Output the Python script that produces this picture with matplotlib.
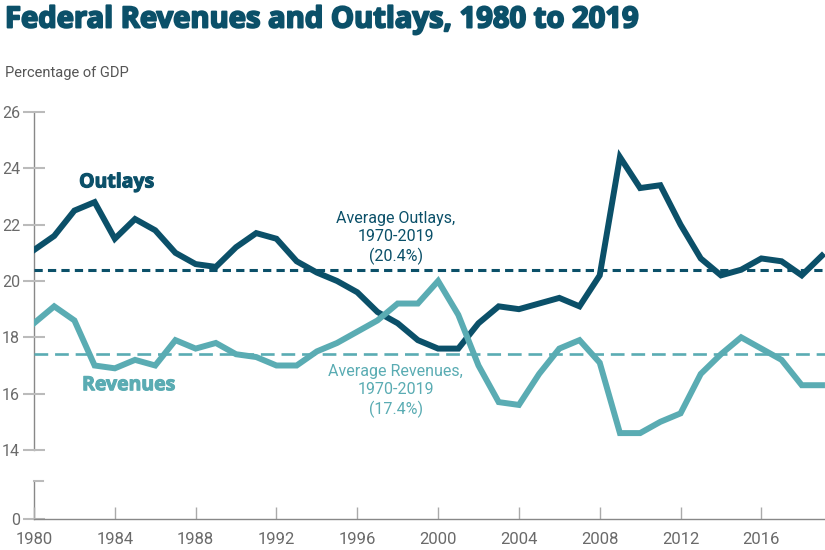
import matplotlib
matplotlib.use("Agg")
import matplotlib.pyplot as plt
from matplotlib import font_manager as fm
import matplotlib.patheffects as pe

years = list(range(1980, 2020))
outlays = [21.1, 21.6, 22.5, 22.8, 21.5, 22.2, 21.8, 21.0, 20.6, 20.5,
           21.2, 21.7, 21.5, 20.7, 20.3, 20.0, 19.6, 18.9, 18.5, 17.9,
           17.6, 17.6, 18.5, 19.1, 19.0, 19.2, 19.4, 19.1, 20.2, 24.4,
           23.3, 23.4, 22.0, 20.8, 20.2, 20.4, 20.8, 20.7, 20.2, 20.9]
revenues = [18.5, 19.1, 18.6, 17.0, 16.9, 17.2, 17.0, 17.9, 17.6, 17.8,
            17.4, 17.3, 17.0, 17.0, 17.5, 17.8, 18.2, 18.6, 19.2, 19.2,
            20.0, 18.8, 17.0, 15.7, 15.6, 16.7, 17.6, 17.9, 17.1, 14.6,
            14.6, 15.0, 15.3, 16.7, 17.4, 18.0, 17.6, 17.2, 16.3, 16.3]
avg_outlays = 20.4
avg_revenues = 17.4
x_ticks = [1980, 1984, 1988, 1992, 1996, 2000, 2004, 2008, 2012, 2016]
y_ticks = [14, 16, 18, 20, 22, 24, 26]

DARK = "#0b5069"
LIGHT = "#5aacb3"
GRAY = "#6a6a6a"

names = {f.name for f in fm.fontManager.ttflist}
cond = "Liberation Sans Narrow" if "Liberation Sans Narrow" in names else "Roboto"
heavy = "Open Sans" if "Open Sans" in names else "DejaVu Sans"

fig = plt.figure(figsize=(8.25, 5.5), dpi=100)
W, H = 825, 550
ax = fig.add_axes([34 / W, 1 - 519 / H, (825 - 34) / W, (519 - 112) / H])

y_zero_pos = 11.55
y_break = 12.9
ax.set_xlim(1980, 2019.15)
ax.set_ylim(y_zero_pos, 26)

ax.plot(years, outlays, color=DARK, lw=4.3, solid_joinstyle="miter", zorder=3)
ax.plot(years, revenues, color=LIGHT, lw=4.3, solid_joinstyle="miter", zorder=3)
ax.axhline(avg_outlays, color=DARK, lw=2.2, dashes=(2.7, 1.7), zorder=2)
ax.axhline(avg_revenues, color=LIGHT, lw=1.9, dashes=(5.2, 2.6), zorder=2)

for s in ["top", "right", "left"]:
    ax.spines[s].set_visible(False)
ax.spines["bottom"].set_color("#888888")
ax.spines["bottom"].set_linewidth(1.0)
# broken y axis line
ax.plot([1980, 1980], [14, 26], color="#888888", lw=1.0, clip_on=False, zorder=1)
ax.plot([1980, 1980], [y_zero_pos, y_break], color="#888888", lw=1.0,
        clip_on=False, zorder=1)
ax.plot([1980, 1980 + 9 / 20.2], [y_break, y_break], color="#bbbbbb", lw=1.5,
        clip_on=False, zorder=1)

ax.set_yticks(y_ticks + [y_zero_pos])
ax.set_yticklabels([str(v) for v in y_ticks] + ["0"])
ax.tick_params(axis="y", direction="inout", length=16, width=1.5, color="#bbbbbb",
               labelsize=11.5, labelcolor=GRAY, pad=2)
ax.set_xticks(x_ticks)
ax.set_xticklabels([str(v) for v in x_ticks])
ax.tick_params(axis="x", direction="in", length=9, width=1.0, color="#aaaaaa",
               labelsize=12, labelcolor=GRAY, pad=9)
for lab in ax.get_xticklabels() + ax.get_yticklabels():
    lab.set_fontfamily(cond)

ax.text(1984.1, 23.5, "Outlays", color=DARK, fontsize=14, fontweight="bold",
        family=heavy, ha="center", va="center",
        path_effects=[pe.withStroke(linewidth=0.8, foreground=DARK)])
ax.text(1984.7, 16.3, "Revenues", color=LIGHT, fontsize=14, fontweight="bold",
        family=heavy, ha="center", va="center",
        path_effects=[pe.withStroke(linewidth=0.8, foreground=LIGHT)])
ax.text(1997.9, 21.52, "Average Outlays,\n1970-2019\n(20.4%)", color=DARK,
        fontsize=11.5, family=cond, ha="center", va="center", linespacing=1.25)
ax.text(1997.9, 16.1, "Average Revenues,\n1970-2019\n(17.4%)", color=LIGHT,
        fontsize=11.5, family=cond, ha="center", va="center", linespacing=1.25)

fig.text(5 / W, 1 - 20 / H, "Federal Revenues and Outlays, 1980 to 2019", color=DARK,
         fontsize=21, fontweight="bold", family=heavy, ha="left", va="center",
         path_effects=[pe.withStroke(linewidth=1.4, foreground=DARK)])
fig.text(5 / W, 1 - 73 / H, "Percentage of GDP", color="#555555", fontsize=10.5,
         family=cond, ha="left", va="center")

fig.savefig("out.png", dpi=100)
